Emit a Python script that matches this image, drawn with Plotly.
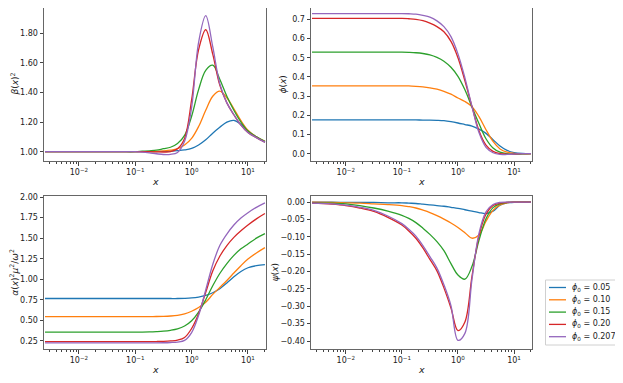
import plotly.graph_objects as go

# shared x sample points
x = [0.0025, 0.0056, 0.01, 0.0178, 0.0316, 0.0562, 0.1, 0.133, 0.178, 0.237, 0.316, 0.422,
     0.562, 0.75, 1.0, 1.33, 1.78, 2.37, 3.16, 4.22, 5.62, 7.5, 10.0, 14.1, 20.0]

labels = ["0.05", "0.10", "0.15", "0.20", "0.207"]
colors = ["#1f77b4", "#ff7f0e", "#2ca02c", "#d62728", "#9467bd"]

# beta(x)^2
beta_005 = [1.0, 1.0, 1.0, 1.0, 1.0, 1.0, 1.0, 1.0, 1.0, 1.001, 1.002, 1.004, 1.007, 1.012, 1.022,
            1.045, 1.08, 1.125, 1.165, 1.2, 1.212, 1.185, 1.14, 1.1, 1.065]
beta_010 = [1.0, 1.0, 1.0, 1.0, 1.0, 1.0, 1.0, 1.0, 1.0, 1.002, 1.005, 1.01, 1.02, 1.045, 1.09,
            1.17, 1.28, 1.375, 1.41, 1.365, 1.29, 1.21, 1.145, 1.1, 1.07]
beta_015 = [1.0, 1.0, 1.0, 1.0, 1.0, 1.0, 1.0, 1.003, 1.006, 1.01, 1.02, 1.03, 1.055, 1.11, 1.24,
            1.42, 1.55, 1.585, 1.49, 1.375, 1.28, 1.2, 1.14, 1.1, 1.07]
beta_020 = [1.0, 1.0, 1.0, 1.0, 1.0, 1.0, 1.0, 1.0, 1.0, 0.999, 0.998, 1.0, 1.02, 1.09, 1.35,
            1.69, 1.825, 1.66, 1.45, 1.33, 1.25, 1.18, 1.13, 1.095, 1.065]
beta_0207 = [1.0, 1.0, 1.0, 1.0, 1.0, 1.0, 1.0, 0.997, 0.992, 0.986, 0.981, 0.982, 0.995, 1.07, 1.3,
             1.74, 1.92, 1.71, 1.46, 1.33, 1.25, 1.18, 1.13, 1.095, 1.065]

# phi(x)
phi_005 = [0.176, 0.176, 0.176, 0.176, 0.176, 0.176, 0.176, 0.176, 0.176, 0.175, 0.175, 0.174,
           0.172, 0.167, 0.16, 0.152, 0.144, 0.128, 0.106, 0.073, 0.04, 0.017, 0.006, 0.001, 0.0]
phi_010 = [0.353, 0.353, 0.353, 0.353, 0.353, 0.353, 0.353, 0.353, 0.351, 0.348, 0.343, 0.336,
           0.325, 0.31, 0.29, 0.272, 0.245, 0.193, 0.125, 0.064, 0.025, 0.008, 0.002, 0.0, 0.0]
phi_015 = [0.529, 0.529, 0.529, 0.529, 0.529, 0.529, 0.529, 0.528, 0.526, 0.522, 0.515, 0.502,
           0.482, 0.45, 0.403, 0.333, 0.243, 0.157, 0.078, 0.03, 0.008, 0.0, -0.002, -0.001, 0.0]
phi_020 = [0.705, 0.705, 0.705, 0.705, 0.705, 0.705, 0.705, 0.703, 0.7, 0.693, 0.68, 0.662,
           0.635, 0.585, 0.5, 0.38, 0.245, 0.12, 0.045, 0.012, 0.0, -0.003, -0.002, 0.0, 0.0]
phi_0207 = [0.73, 0.73, 0.73, 0.73, 0.73, 0.73, 0.73, 0.729, 0.727, 0.721, 0.712, 0.692,
            0.662, 0.61, 0.52, 0.395, 0.245, 0.11, 0.033, 0.005, -0.004, -0.004, -0.002, 0.0, 0.0]

# alpha(x)^2 mu^2 / omega^2
alpha_005 = [0.765, 0.765, 0.765, 0.765, 0.765, 0.765, 0.765, 0.765, 0.765, 0.765, 0.765, 0.765,
             0.765, 0.767, 0.772, 0.783, 0.802, 0.835, 0.885, 0.955, 1.03, 1.095, 1.14, 1.165, 1.178]
alpha_010 = [0.545, 0.545, 0.545, 0.545, 0.545, 0.545, 0.545, 0.545, 0.545, 0.546, 0.548, 0.552,
             0.56, 0.578, 0.61, 0.655, 0.72, 0.815, 0.9, 0.985, 1.075, 1.165, 1.245, 1.32, 1.385]
alpha_015 = [0.355, 0.355, 0.355, 0.355, 0.355, 0.355, 0.355, 0.356, 0.358, 0.362, 0.368, 0.378,
             0.395, 0.43, 0.495, 0.6, 0.75, 0.92, 1.07, 1.19, 1.29, 1.37, 1.43, 1.5, 1.555]
alpha_020 = [0.24, 0.24, 0.24, 0.24, 0.24, 0.24, 0.24, 0.24, 0.24, 0.241, 0.243, 0.248,
             0.258, 0.29, 0.4, 0.58, 0.84, 1.1, 1.28, 1.41, 1.51, 1.59, 1.66, 1.735, 1.8]
alpha_0207 = [0.225, 0.225, 0.225, 0.225, 0.225, 0.225, 0.225, 0.225, 0.225, 0.225, 0.226, 0.229,
              0.235, 0.255, 0.35, 0.56, 0.87, 1.18, 1.41, 1.55, 1.66, 1.745, 1.81, 1.875, 1.93]

# psi(x)
psi_005 = [0.0, 0.0, -0.001, -0.001, -0.001, -0.002, -0.002, -0.003, -0.004, -0.006, -0.008, -0.01,
           -0.012, -0.015, -0.018, -0.022, -0.026, -0.03, -0.033, -0.026, -0.009, -0.002, -0.001, 0.0, 0.0]
psi_010 = [0.0, -0.001, -0.002, -0.003, -0.005, -0.007, -0.01, -0.013, -0.017, -0.023, -0.03, -0.039,
           -0.049, -0.06, -0.073, -0.088, -0.104, -0.095, -0.055, -0.024, -0.008, -0.002, 0.0, 0.0, 0.0]
psi_015 = [-0.002, -0.003, -0.005, -0.01, -0.017, -0.026, -0.038, -0.047, -0.059, -0.075, -0.093, -0.114,
           -0.14, -0.177, -0.21, -0.222, -0.185, -0.11, -0.048, -0.016, -0.005, -0.001, 0.0, 0.0, 0.0]
psi_020 = [-0.003, -0.006, -0.01, -0.017, -0.027, -0.044, -0.066, -0.083, -0.104, -0.132, -0.165, -0.198,
           -0.247, -0.305, -0.37, -0.345, -0.213, -0.097, -0.035, -0.01, -0.003, -0.001, 0.0, 0.0, 0.0]
psi_0207 = [-0.003, -0.005, -0.009, -0.015, -0.024, -0.04, -0.062, -0.078, -0.098, -0.125, -0.157, -0.19,
            -0.238, -0.298, -0.398, -0.378, -0.222, -0.09, -0.028, -0.007, -0.001, 0.0, 0.0, 0.0, 0.0]

panels = [
    [beta_005, beta_010, beta_015, beta_020, beta_0207],
    [phi_005, phi_010, phi_015, phi_020, phi_0207],
    [alpha_005, alpha_010, alpha_015, alpha_020, alpha_0207],
    [psi_005, psi_010, psi_015, psi_020, psi_0207],
]

# the page body has an 8px margin, so the figure is drawn offset by 8px
OFF = 8
W, H = 623 - OFF, 383 - OFF


def fx(px):
    return min(1.0, max(0.0, (px - OFF) / W))


def fy(py):
    return min(1.0, max(0.0, 1 - (py - OFF) / H))


xpix = [[44, 266], [311, 532]]
ypix = [[8, 161], [195.5, 349]]
xdoms = [[fx(a), fx(b)] for a, b in xpix]
ydoms = [[fy(b), fy(a)] for a, b in ypix]

ylabels = [
    "<i>β</i>(<i>x</i>)<sup>2</sup>",
    "<i>ϕ</i>(<i>x</i>)",
    "<i>α</i>(<i>x</i>)<sup>2</sup><i>μ</i><sup>2</sup>/<i>ω</i><sup>2</sup>",
    "<i>ψ</i>(<i>x</i>)",
]
ylabel_xpix = [15, 283, 14.5, 275]
yranges = [[0.937, 1.972], [-0.038, 0.759], [0.15, 2.02], [-0.423, 0.019]]
ytickvals = [
    [1.0, 1.2, 1.4, 1.6, 1.8],
    [0.0, 0.1, 0.2, 0.3, 0.4, 0.5, 0.6, 0.7],
    [0.25, 0.5, 0.75, 1.0, 1.25, 1.5, 1.75, 2.0],
    [0.0, -0.05, -0.1, -0.15, -0.2, -0.25, -0.3, -0.35, -0.4],
]
yfmt = [".2f", ".1f", ".2f", ".2f"]

minor_vals = [m * 10 ** k for k in range(-3, 2) for m in range(2, 10)]

fig = go.Figure()
tickfont = dict(family="DejaVu Sans", size=8, color="#222")
titlefont = dict(family="DejaVu Sans", size=9, color="#222")
annotations = []

for p, series in enumerate(panels):
    r, c = divmod(p, 2)
    ax = "" if p == 0 else str(p + 1)
    for i, ys in enumerate(series):
        fig.add_trace(go.Scatter(
            x=x, y=ys, mode="lines",
            line=dict(color=colors[i], width=1.3, shape="spline", smoothing=1.0),
            name="ϕ0 = " + labels[i], showlegend=False,
            xaxis="x" + ax, yaxis="y" + ax,
        ))
    common = dict(showline=True, mirror=True, linecolor="#666", linewidth=1,
                  ticks="outside", ticklen=3.5, tickcolor="#444", showgrid=False,
                  zeroline=False, tickfont=tickfont, automargin=False)
    fig.layout["xaxis" + ax] = dict(
        type="log", domain=xdoms[c], anchor="y" + ax,
        range=[-2.62, 1.32],
        tickmode="array", tickvals=[0.01, 0.1, 1, 10],
        ticktext=["10<sup>−2</sup>", "10<sup>−1</sup>", "10<sup>0</sup>", "10<sup>1</sup>"],
        minor=dict(tickmode="array", tickvals=minor_vals, ticks="outside", ticklen=2,
                   tickcolor="#444"),
        **common,
    )
    fig.layout["yaxis" + ax] = dict(
        domain=ydoms[r], anchor="x" + ax, range=yranges[p],
        tickmode="array", tickvals=ytickvals[p], tickformat=yfmt[p],
        **common,
    )
    # axis titles
    xc = (xpix[c][0] + xpix[c][1]) / 2
    annotations.append(dict(text="<i>x</i>", x=fx(xc), y=fy(ypix[r][1] + 20),
                            xref="paper", yref="paper", showarrow=False,
                            font=dict(family="DejaVu Sans", size=9.5, color="#222"),
                            xanchor="center", yanchor="middle"))
    yc = (ypix[r][0] + ypix[r][1]) / 2
    annotations.append(dict(text=ylabels[p], x=fx(ylabel_xpix[p]), y=fy(yc),
                            xref="paper", yref="paper", showarrow=False, textangle=-90,
                            font=titlefont, xanchor="center", yanchor="middle",
                            borderpad=0))

# manual legend (box, line samples, labels)
leg_left, leg_right, leg_top, leg_bottom = 545.5, 617.5, 280, 345
shapes = [dict(type="rect", xref="paper", yref="paper",
               x0=fx(leg_left), x1=fx(leg_right), y0=fy(leg_bottom), y1=fy(leg_top),
               line=dict(color="#d0d0d0", width=1), fillcolor="white", layer="above")]
entry_y = [287.5, 299.8, 312.1, 324.4, 336.7]
for i, lab in enumerate(labels):
    yy = fy(entry_y[i])
    shapes.append(dict(type="line", xref="paper", yref="paper",
                       x0=fx(549), x1=fx(566), y0=yy, y1=yy,
                       line=dict(color=colors[i], width=1.3), layer="above"))
    annotations.append(dict(text="<i>ϕ</i><sub>0</sub> = " + lab, x=fx(570), y=yy,
                            xref="paper", yref="paper", showarrow=False,
                            xanchor="left", yanchor="middle",
                            font=dict(family="DejaVu Sans", size=8, color="#222")))

fig.update_layout(
    width=W, height=H,
    margin=dict(l=0, r=0, t=0, b=0),
    paper_bgcolor="white", plot_bgcolor="white",
    showlegend=False,
    annotations=annotations,
    shapes=shapes,
)

fig.write_html("out.html")
